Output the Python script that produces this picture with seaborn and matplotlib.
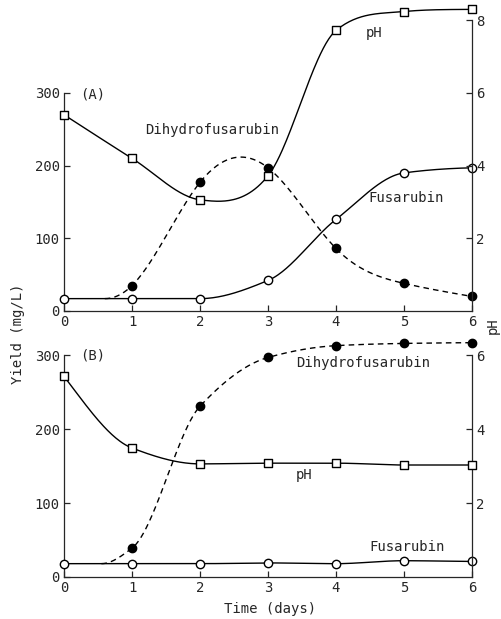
import numpy as np
import pandas as pd
import matplotlib
matplotlib.use("Agg")
import matplotlib.pyplot as plt
import seaborn as sns

# ---- data ----
days = [0, 1, 2, 3, 4, 5, 6]
dhf_days = [1, 2, 3, 4, 5, 6]

# (A)
ph_a = [5.4, 4.2, 3.06, 3.72, 7.72, 8.24, 8.3]
fus_a = [17, 17, 17, 42, 126, 190, 197]
dhf_a = [35, 177, 197, 86, 38, 20]
dhf_start_a = 0.6     # day where the dashed curve leaves the baseline

# (B)
ph_b = [5.43, 3.49, 3.06, 3.08, 3.08, 3.03, 3.03]
fus_b = [18, 18, 18, 19, 18, 22, 21]
dhf_b = [39, 231, 297, 313, 316, 317]
dhf_start_b = 0.55


def spline(x, y, xs, s0=None):
    # cubic spline, natural ends (or clamped slope s0 at start)
    x = np.asarray(x, float)
    y = np.asarray(y, float)
    n = len(x)
    h = np.diff(x)
    A = np.zeros((n, n))
    r = np.zeros(n)
    A[0, 0] = A[-1, -1] = 1
    if s0 is not None:
        A[0, 0], A[0, 1] = 2 * h[0], h[0]
        r[0] = 3 * ((y[1] - y[0]) / h[0] - s0)
    for i in range(1, n - 1):
        A[i, i - 1], A[i, i], A[i, i + 1] = h[i - 1], 2 * (h[i - 1] + h[i]), h[i]
        r[i] = 3 * ((y[i + 1] - y[i]) / h[i] - (y[i] - y[i - 1]) / h[i - 1])
    c = np.linalg.solve(A, r)
    b = np.diff(y) / h - h * (2 * c[:-1] + c[1:]) / 3
    d = np.diff(c) / (3 * h)
    k = np.clip(np.searchsorted(x, xs) - 1, 0, n - 2)
    t = xs - x[k]
    return y[k] + b[k] * t + c[k] * t ** 2 + d[k] * t ** 3


def hermite(x, y, xs, m):
    x = np.asarray(x, float)
    y = np.asarray(y, float)
    h = np.diff(x)
    k = np.clip(np.searchsorted(x, xs) - 1, 0, len(x) - 2)
    t = (xs - x[k]) / h[k]
    return ((2 * t**3 - 3 * t**2 + 1) * y[k] + (t**3 - 2 * t**2 + t) * h[k] * m[k]
            + (-2 * t**3 + 3 * t**2) * y[k + 1] + (t**3 - t**2) * h[k] * m[k + 1])


def pchip(x, y, xs, s0=None):
    # monotone cubic (no overshoot)
    x = np.asarray(x, float)
    y = np.asarray(y, float)
    h = np.diff(x)
    dl = np.diff(y) / h
    m = np.zeros_like(y)
    for i in range(1, len(x) - 1):
        if dl[i - 1] * dl[i] > 0:
            w1, w2 = 2 * h[i] + h[i - 1], h[i] + 2 * h[i - 1]
            m[i] = (w1 + w2) / (w1 / dl[i - 1] + w2 / dl[i])
    m[0] = dl[0] if s0 is None else s0
    m[-1] = dl[-1] * 0.3
    return hermite(x, y, xs, m)


def cardinal(x, y, xs, s0=None):
    # Catmull-Rom tangents, limited only where the data are monotone
    x = np.asarray(x, float)
    y = np.asarray(y, float)
    h = np.diff(x)
    dl = np.diff(y) / h
    m = np.zeros_like(y)
    m[1:-1] = (y[2:] - y[:-2]) / (x[2:] - x[:-2])
    m[0] = dl[0] if s0 is None else s0
    m[-1] = dl[-1] * 0.3
    for i in range(len(dl)):
        if i > 0 and i < len(dl) - 1 and dl[i - 1] * dl[i] > 0 and dl[i] * dl[i + 1] > 0:
            a, b = m[i] / dl[i], m[i + 1] / dl[i]
            if a * a + b * b > 9:
                tau = 3 / np.sqrt(a * a + b * b)
                m[i], m[i + 1] = tau * a * dl[i], tau * b * dl[i]
        elif i > 0 and dl[i - 1] * dl[i] > 0 and dl[i] != 0:
            a, b = m[i] / dl[i], m[i + 1] / dl[i]
            if a * a + b * b > 9:
                tau = 3 / np.sqrt(a * a + b * b)
                m[i], m[i + 1] = tau * a * dl[i], tau * b * dl[i]
    return hermite(x, y, xs, m)


def curve(ax, x, y, fit, dashed=False, s0=None):
    xs = np.linspace(x[0], x[-1], 300)
    df = pd.DataFrame({"x": xs, "y": fit(x, y, xs, s0)})
    sns.lineplot(data=df, x="x", y="y", ax=ax, color="black", lw=1.0,
                 linestyle=(0, (4, 3)) if dashed else "-", zorder=2)


def points(ax, x, y, marker, filled):
    sns.scatterplot(x=x, y=y, ax=ax, marker=marker, s=36,
                    color="black" if filled else "white", edgecolor="black",
                    linewidth=1.0, zorder=4, clip_on=False)


sns.set_style("ticks")
plt.rcParams["font.family"] = ["DejaVu Sans Mono"]
plt.rcParams["font.size"] = 10

fig = plt.figure(figsize=(5.02, 6.19), dpi=100)
axA = fig.add_axes([0.1275, 0.4976, 0.8127, 0.499])
axB = fig.add_axes([0.1275, 0.0679, 0.8127, 0.394])


def frame(ax, top, ph_top):
    ax.set_xlim(0, 6)
    ax.set_ylim(0, top)
    ax.set_xticks(days)
    ax.set_yticks([0, 100, 200, 300])
    for s in ["top", "right"]:
        ax.spines[s].set_visible(False)
    ax.spines["left"].set_bounds(0, 300)
    ax.tick_params(direction="in", length=4, width=0.9, pad=3, labelsize=10)
    for s in ["left", "bottom"]:
        ax.spines[s].set_linewidth(0.9)
    ax2 = ax.twinx()
    ax2.set_ylim(0, top / 50)
    ax2.set_yticks(list(range(2, ph_top + 1, 2)))
    for s in ["top", "left", "bottom"]:
        ax2.spines[s].set_visible(False)
    ax2.spines["right"].set_bounds(0, ph_top)
    ax2.spines["right"].set_linewidth(0.9)
    ax2.tick_params(direction="in", length=4, width=0.9, pad=3, labelsize=10)
    return ax2


phA = frame(axA, 425, 8)
phB = frame(axB, 330, 6)

# (A)
curve(phA, days, ph_a, cardinal)
curve(axA, days, fus_a, pchip, s0=0)
curve(axA, [dhf_start_a] + dhf_days, [fus_a[0]] + dhf_a, spline, dashed=True, s0=0)
points(phA, days, ph_a, "s", False)
points(axA, days, fus_a, "o", False)
points(axA, dhf_days, dhf_a, "o", True)

# (B)
curve(phB, days, ph_b, pchip, s0=-2.4)
curve(axB, days, fus_b, pchip, s0=0)
curve(axB, [dhf_start_b] + dhf_days, [fus_b[0]] + dhf_b, pchip, dashed=True, s0=0)
points(phB, days, ph_b, "s", False)
points(axB, days, fus_b, "o", False)
points(axB, dhf_days, dhf_b, "o", True)

for ax in (axA, axB, phA, phB):
    ax.set_xlabel("")
    ax.set_ylabel("")

# annotations
axA.text(0.23, 298, "(A)", va="center")
axA.text(1.19, 249, "Dihydrofusarubin", va="center")
axA.text(4.44, 382, "pH", va="center")
axA.text(4.47, 155, "Fusarubin", va="center")

axB.text(0.23, 300, "(B)", va="center")
axB.text(3.41, 290, "Dihydrofusarubin", va="center")
axB.text(3.41, 138, "pH", va="center")
axB.text(4.49, 41, "Fusarubin", va="center")

fig.text(18 / 502, 1 - 334 / 619, "Yield (mg/L)", rotation=90, ha="center", va="center")
fig.text(493 / 502, 1 - 326 / 619, "pH", rotation=90, ha="center", va="center")
fig.text(270 / 502, 1 - 609 / 619, "Time (days)", ha="center", va="center")

fig.savefig("out.png", dpi=100)
